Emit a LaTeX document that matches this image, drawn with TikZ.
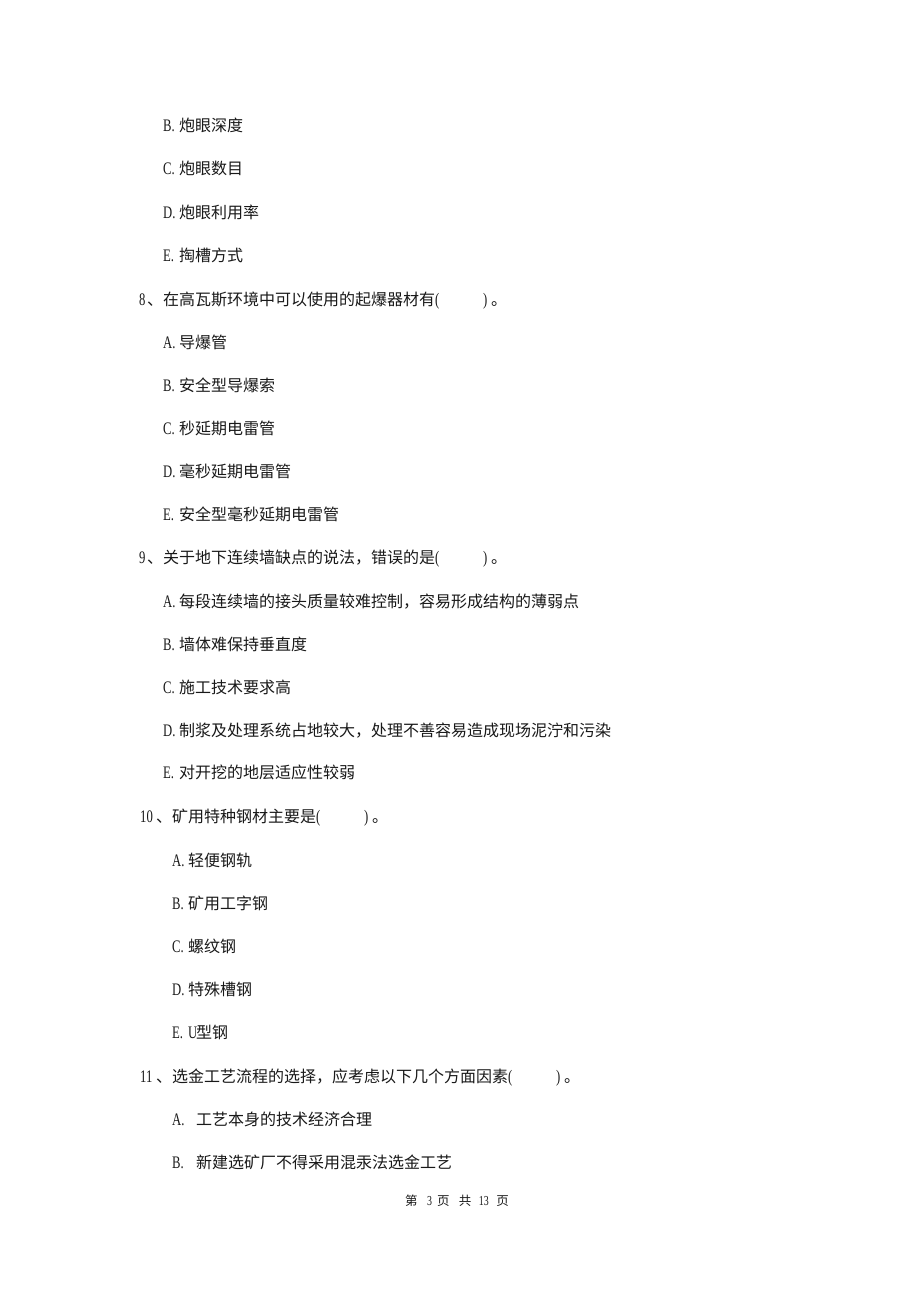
\documentclass[tikz,border=0pt]{standalone}
\usepackage{fontspec}
\setmainfont{Liberation Serif}
\newfontfamily\cjk{Noto Sans CJK SC}
\newfontfamily\lat[FakeStretch=0.72,Scale=1.1]{Liberation Serif}
\newcommand\pf[2]{\makebox[#1][l]{\lat #2}}
\newcommand\paren{\pf{0.5em}{(}\hspace{2.5em}\pf{0.5em}{)}。}
\tikzset{
  line/.style={anchor=base west, inner sep=0pt, font=\fontsize{16}{16}\selectfont\cjk, text=black!90},
  foot/.style={anchor=base west, inner sep=0pt, font=\fontsize{12.5}{12.5}\selectfont\cjk, text=black!90}
}
\begin{document}
\begin{tikzpicture}[x=1pt,y=-1pt]
\useasboundingbox[fill=white] (0,0) rectangle (920,1302);
% question 7 options (continued)
\node[line] (q7b) at (163,131) {\pf{1em}{B.}炮眼深度};
\node[line] (q7c) at (163,174) {\pf{1em}{C.}炮眼数目};
\node[line] (q7d) at (163,218) {\pf{1em}{D.}炮眼利用率};
\node[line] (q7e) at (163,261) {\pf{1em}{E.}掏槽方式};
% question 8
\node[line] (q8) at (139,305) {\pf{0.5em}{8}、在高瓦斯环境中可以使用的起爆器材有\paren};
\node[line] (q8a) at (163,348) {\pf{1em}{A.}导爆管};
\node[line] (q8b) at (163,391) {\pf{1em}{B.}安全型导爆索};
\node[line] (q8c) at (163,434) {\pf{1em}{C.}秒延期电雷管};
\node[line] (q8d) at (163,477) {\pf{1em}{D.}毫秒延期电雷管};
\node[line] (q8e) at (163,520) {\pf{1em}{E.}安全型毫秒延期电雷管};
% question 9
\node[line] (q9) at (139,563) {\pf{0.5em}{9}、关于地下连续墙缺点的说法，错误的是\paren};
\node[line] (q9a) at (163,607) {\pf{1em}{A.}每段连续墙的接头质量较难控制，容易形成结构的薄弱点};
\node[line] (q9b) at (163,650) {\pf{1em}{B.}墙体难保持垂直度};
\node[line] (q9c) at (163,693) {\pf{1em}{C.}施工技术要求高};
\node[line] (q9d) at (163,736) {\pf{1em}{D.}制浆及处理系统占地较大，处理不善容易造成现场泥泞和污染};
\node[line] (q9e) at (163,778) {\pf{1em}{E.}对开挖的地层适应性较弱};
% question 10
\node[line] (q10) at (140,822) {\pf{1em}{10}、矿用特种钢材主要是\paren};
\node[line] (q10a) at (172,866) {\pf{1em}{A.}轻便钢轨};
\node[line] (q10b) at (172,909) {\pf{1em}{B.}矿用工字钢};
\node[line] (q10c) at (172,952) {\pf{1em}{C.}螺纹钢};
\node[line] (q10d) at (172,995) {\pf{1em}{D.}特殊槽钢};
\node[line] (q10e) at (172,1038) {\pf{1em}{E.}\pf{0.5em}{U}型钢};
% question 11
\node[line] (q11) at (140,1082) {\pf{1em}{11}、选金工艺流程的选择，应考虑以下几个方面因素\paren};
\node[line] (q11a) at (172,1125) {\pf{1.5em}{A.}工艺本身的技术经济合理};
\node[line] (q11b) at (172,1168) {\pf{1.5em}{B.}新建选矿厂不得采用混汞法选金工艺};
% footer
\node[foot] (footer) at (405,1205) {第\hspace{0.75em}{\lat 3}\hspace{0.4em}页\hspace{0.75em}共\hspace{0.6em}{\lat 13}\hspace{0.6em}页};
\end{tikzpicture}
\end{document}
